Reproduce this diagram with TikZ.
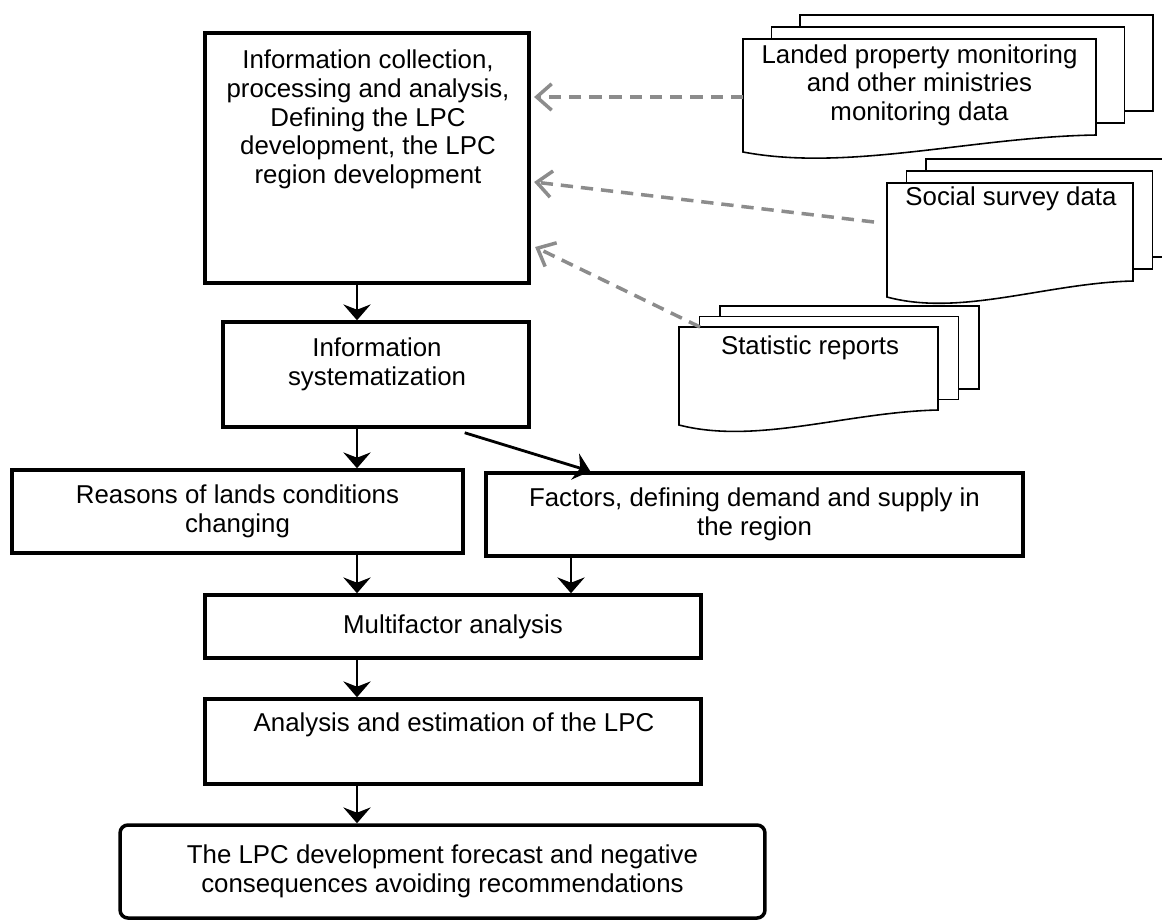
\documentclass[tikz,border=0pt]{standalone}
\usepackage{fontspec}
\setmainfont{Liberation Sans}
\usetikzlibrary{arrows.meta,calc}

\definecolor{feedgray}{RGB}{140,140,140}

\tikzset{
	box/.style={draw, line width=2pt, inner sep=0pt, align=center},
	txt/.style={inner sep=0pt, align=center},
	flow/.style={line width=1.6pt, -{Stealth[length=9pt,width=15.5pt,inset=3pt]}},
	feed/.style={draw=feedgray, line width=2pt, dash pattern=on 7pt off 4.5pt,
		-{Straight Barb[length=8.5pt,width=15pt]}},
	sheet/.style={line width=0.9pt},
}

% stacked documents: x, y (top left of front sheet), width, left height, right height, dx, dy
\newcommand{\docpages}[7]{%
	\draw[sheet] (#1,#2) -- ({#1+#3},#2) -- ({#1+#3},{#2+#5})
		.. controls ({#1+0.65*#3},{#2+#5+2}) and ({#1+0.3*#3},{#2+#4+20}) .. (#1,{#2+#4}) -- cycle;
	\foreach \k in {1,2}{
		\draw[sheet] ({#1+\k*#6},{#2-(\k-1)*#7}) -- ({#1+\k*#6},{#2-\k*#7})
			-- ({#1+#3+\k*#6},{#2-\k*#7}) -- ({#1+#3+\k*#6},{#2+#5-\k*#7})
			-- ({#1+#3+(\k-1)*#6},{#2+#5-\k*#7});
	}%
}

\begin{document}
\begin{tikzpicture}[x=0.02cm, y=-0.02cm, font=\fontsize{14.7}{16.3}\selectfont]
	\clip (0,0) rectangle (1162,920);

	% main chain
	\node[box, line width=2.4pt, minimum width=6.48cm, minimum height=5cm] (collect) at (367,158) {};
	\node[txt] (collect-txt) at (368,119.5) {Information collection,\\ processing and analysis,\\ Defining the LPC\\ development, the LPC\\ region development};

	\node[box, minimum width=6.12cm, minimum height=2.1cm] (syst) at (376,374.5) {};
	\node[txt] (syst-txt) at (377,364) {Information\\ systematization};

	\node[box, minimum width=9.02cm, minimum height=1.66cm] (reasons) at (237.5,511.5) {Reasons of lands conditions\\ changing};
	\node[box, minimum width=10.74cm, minimum height=1.66cm] (factors) at (754.5,514.5) {Factors, defining demand and supply in\\ the region};

	\node[box, minimum width=9.92cm, minimum height=1.26cm] (multi) at (453,626.5) {Multifactor analysis};

	\node[box, minimum width=9.92cm, minimum height=1.7cm] (analysis) at (453,741.5) {};
	\node[txt] (analysis-txt) at (454,725) {Analysis and estimation of the LPC};

	\node[box, rounded corners=4.5pt, minimum width=12.9cm, minimum height=1.86cm] (final) at (442.5,871.5) {The LPC development forecast and negative\\ consequences avoiding recommendations};

	% source documents
	\docpages{743}{39}{353}{113}{96}{28.5}{12}
	\node[txt] (land) at (919.5,85) {Landed property monitoring\\ and other ministries\\ monitoring data};

	\docpages{887}{183}{246}{114}{98}{19.5}{12}
	\node[txt] (survey) at (1011,199) {Social survey data};

	\docpages{679}{327}{259}{98}{83}{20.5}{10.5}
	\node[txt] (stats) at (810,348) {Statistic reports};

	% connectors
	\coordinate (spine) at (357,0);
	\coordinate (join) at (571,0);
	\draw[flow] (collect.south -| spine) -- (syst.north -| spine);
	\draw[flow] (syst.south -| spine) -- (reasons.north -| spine);
	\draw[flow] ($(syst.south -| reasons.east)+(0,4)$) -- ($(factors.north west)+(106,0)$);
	\draw[flow] (reasons.south -| spine) -- (multi.north -| spine);
	\draw[flow] (factors.south -| join) -- (multi.north -| join);
	\draw[flow] (multi.south -| spine) -- (analysis.north -| spine);
	\draw[flow] (analysis.south -| spine) -- (final.north -| spine);

	\coordinate (land-out) at (743,97);
	\coordinate (survey-out) at (874,222);
	\coordinate (stats-out) at (700,327);
	\draw[feed] (land-out) -- ($(collect.east |- land-out)+(3,0)$);
	\draw[feed] (survey-out) -- ($(collect.east)+(3,24)$);
	\draw[feed] (stats-out) -- ($(collect.east)+(4,89)$);
\end{tikzpicture}
\end{document}
